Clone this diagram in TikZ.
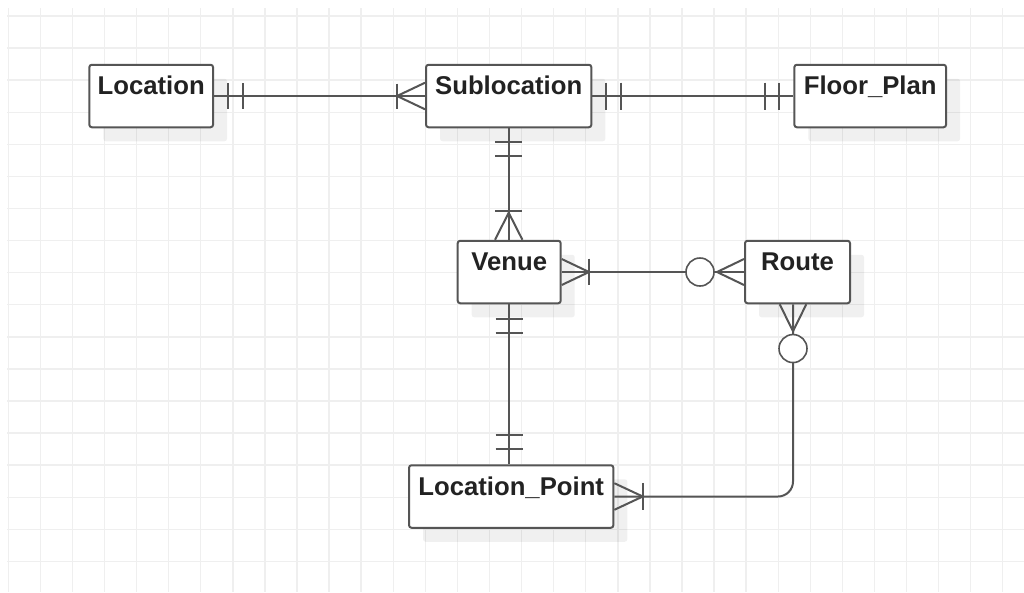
\documentclass[tikz,border=0pt]{standalone}
\usepackage{fontspec}
\setmainfont{Liberation Sans}
\usetikzlibrary{calc,shadows}
\definecolor{strokec}{HTML}{555555}
\definecolor{gridc}{HTML}{EFEFEF}
\definecolor{textc}{HTML}{222222}
\begin{document}
\begin{tikzpicture}[x=1pt,y=-1pt,
  entity/.style={draw=strokec, line width=2pt, fill=white, rounded corners=2.5pt,
    inner xsep=0pt, inner ysep=0pt, text height=30pt, text depth=32.5pt,
    font=\fontsize{25.7}{30}\selectfont\bfseries, text=textc,
    general shadow={fill=black, opacity=0.06, shadow xshift=14pt, shadow yshift=-14pt}},
  rel/.style={draw=strokec, line width=2pt},
  gridline/.style={draw=gridc, line width=1.4pt},
  zcirc/.style={draw=strokec, line width=1.6pt, fill=white}
]
\useasboundingbox (0,0) rectangle (1024,592);
\fill[white] (0,0) rectangle (1024,592);
% grid
\foreach \i in {0,...,31} \draw[gridline] ({8.3+32.08*\i},8) -- ++(0,584);
\foreach \j in {0,...,17} \draw[gridline] (7,{16+32.08*\j}) -- (1024,{16+32.08*\j});

% entities
\node[entity, minimum width=123.7pt] (loc) at (151.2,96) {Location};
\node[entity, minimum width=165.3pt] (sub) at (508.7,96) {Sublocation};
\node[entity, minimum width=151.7pt] (fp)  at (870.2,96) {Floor\_Plan};
\node[entity, minimum width=103pt]   (ven) at (509.2,272) {Venue};
\node[entity, minimum width=105pt]   (route) at (797.5,272) {Route};
\node[entity, minimum width=204.3pt] (lp)  at (511.2,496.5) {Location\_Point};

% Location -- Sublocation
\draw[rel] (loc.east) -- (sub.west);
\draw[rel] ($(loc.east)+(14,-13)$) -- ++(0,26);
\draw[rel] ($(loc.east)+(28.5,-13)$) -- ++(0,26);
\draw[rel] ($(sub.west)+(-28.5,-12.5)$) -- ++(0,25);
\draw[rel] ($(sub.west)+(0,-13.3)$) -- ($(sub.west)+(-28,0)$) -- ($(sub.west)+(0,13.3)$);

% Sublocation -- Floor_Plan
\draw[rel] (sub.east) -- (fp.west);
\draw[rel] ($(sub.east)+(14,-13.5)$) -- ++(0,27);
\draw[rel] ($(sub.east)+(28.5,-13.5)$) -- ++(0,27);
\draw[rel] ($(fp.west)+(-14,-13.5)$) -- ++(0,27);
\draw[rel] ($(fp.west)+(-28.5,-13.5)$) -- ++(0,27);

% Sublocation -- Venue
\coordinate (sv) at (sub.south -| sub.south);
\draw[rel] (sub.south) -- (sub.south |- ven.north);
\draw[rel] ($(sub.south)+(-13.5,14)$) -- ++(27,0);
\draw[rel] ($(sub.south)+(-13.5,28)$) -- ++(27,0);
\coordinate (vt) at (sub.south |- ven.north);
\draw[rel] ($(vt)+(-13.5,-29)$) -- ++(27,0);
\draw[rel] ($(vt)+(-13.7,0)$) -- ($(vt)+(0,-27)$) -- ($(vt)+(13.7,0)$);

% Venue -- Route
\draw[rel] (ven.east) -- (route.west);
\draw[rel] ($(ven.east)+(27.3,-13.3)$) -- ++(0,26.6);
\draw[rel] ($(ven.east)+(0,-13)$) -- ($(ven.east)+(27.3,0)$) -- ($(ven.east)+(0,13)$);
\draw[rel] ($(route.west)+(0,-13)$) -- ($(route.west)+(-27,0)$) -- ($(route.west)+(0,13)$);
\draw[zcirc] ($(route.west)+(-44,0)$) circle[radius=14];

% Venue -- Location_Point
\draw[rel] (ven.south) -- (ven.south |- lp.north);
\draw[rel] ($(ven.south)+(-13.5,15)$) -- ++(27,0);
\draw[rel] ($(ven.south)+(-13.5,29)$) -- ++(27,0);
\coordinate (lt) at (ven.south |- lp.north);
\draw[rel] ($(lt)+(-13.5,-15)$) -- ++(27,0);
\draw[rel] ($(lt)+(-13.5,-29)$) -- ++(27,0);

% Route -- Location_Point
\coordinate (rb) at ($(route.south)+(-4.5,0)$);
\draw[rel, rounded corners=15pt] (rb) |- (lp.east);
\draw[rel] ($(rb)+(-13.3,0)$) -- ($(rb)+(0,27)$) -- ($(rb)+(13.3,0)$);
\draw[zcirc] ($(rb)+(0,44.3)$) circle[radius=14];
\draw[rel] ($(lp.east)+(0,-13.3)$) -- ($(lp.east)+(28.4,0)$) -- ($(lp.east)+(0,13.3)$);
\draw[rel] ($(lp.east)+(28.4,-13.7)$) -- ++(0,27.4);
\end{tikzpicture}
\end{document}
